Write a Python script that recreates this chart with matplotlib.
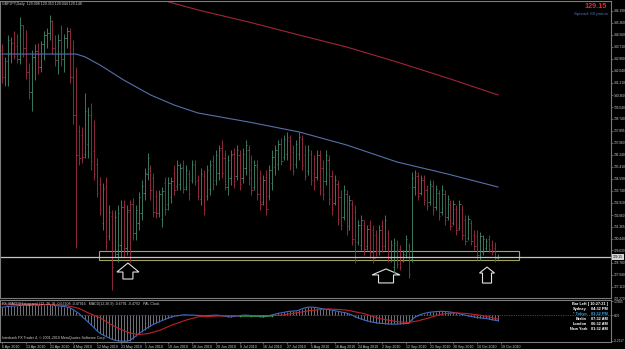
import matplotlib
matplotlib.use('Agg')
import matplotlib.pyplot as plt
import matplotlib.transforms as mtransforms
from matplotlib.patches import Polygon, Rectangle
import numpy as np

plt.rcParams['font.family'] = ['Liberation Sans', 'DejaVu Sans']

# ---------------- data ----------------
header = "GBPJPY,Daily  129.098 129.353 129.044 129.148"

opens = [143.5, 141.6, 142.7, 143.3, 144.0, 143.8, 142.9, 145.2, 143.6, 142.0,
         140.6, 143.0, 143.4, 142.3, 143.9, 144.5, 144.7, 145.5, 143.6, 142.8,
         144.2, 142.9, 144.3, 144.8, 141.6, 139.0, 137.9, 137.6, 136.3, 137.0,
         139.0, 136.5, 135.6, 134.2, 131.5, 134.0, 130.6, 132.0, 129.6, 129.4,
         130.0, 132.6, 129.8, 132.4, 132.8, 130.8, 131.5, 132.2, 133.6, 134.9,
         135.3, 134.6, 133.4, 132.2, 131.8, 134.3, 132.8, 133.3, 135.0, 134.1,
         134.2, 135.4, 134.0, 134.9, 134.5, 135.5, 134.5, 133.2, 134.8, 133.4,
         133.9, 135.8, 134.5, 135.0, 136.7, 136.0, 134.0, 134.6, 136.3, 134.8,
         136.2, 134.6, 135.3, 136.6, 135.2, 134.0, 135.4, 134.6, 133.0, 134.7,
         133.4, 134.3, 135.4, 135.6, 137.0, 136.1, 136.3, 137.2, 136.4, 135.6,
         136.3, 137.3, 136.2, 135.1, 136.3, 135.0, 134.7, 136.2, 135.3, 134.4,
         135.9, 134.8, 132.9, 134.2, 133.3, 131.9, 133.5, 131.3, 132.8, 132.3,
         130.2, 130.0, 131.4, 129.9, 131.4, 131.0, 130.7, 129.6, 131.3, 129.9,
         130.8, 129.1, 128.5, 130.0, 129.7, 128.9, 129.3, 129.9, 129.0, 134.0,
         134.8, 133.6, 134.5, 133.8, 133.0, 134.1, 132.6, 133.6, 132.3, 133.5,
         131.9, 132.8, 131.5, 132.5, 131.2, 132.5, 131.7, 130.5, 131.5, 130.7,
         130.6, 129.2, 129.5, 129.8, 130.4, 130.0, 129.8, 129.098]
highs = [143.9, 143.0, 144.5, 144.4, 144.8, 144.6, 145.8, 145.2, 144.9, 142.6,
         143.5, 143.9, 144.0, 144.1, 144.8, 145.0, 145.9, 145.6, 144.5, 144.6,
         145.2, 144.6, 145.1, 145.0, 144.2, 142.3, 138.30, 138.16, 140.51, 139.55,
         139.82, 138.65, 136.02, 134.70, 134.29, 134.70, 132.76, 132.42, 132.42, 132.76,
         133.11, 133.11, 132.76, 133.11, 133.25, 132.76, 133.66, 134.49, 135.32, 136.36,
         135.53, 134.98, 133.80, 133.80, 134.01, 134.70, 134.70, 134.70, 135.53, 135.88,
         135.67, 135.88, 135.53, 135.19, 135.88, 135.88, 134.84, 135.32, 135.19, 135.53,
         135.88, 136.22, 136.57, 136.92, 137.26, 136.57, 136.22, 136.57, 136.71, 136.92,
         136.57, 136.71, 137.26, 136.92, 136.22, 135.88, 135.88, 135.19, 134.84, 135.19,
         135.53, 136.57, 136.92, 137.26, 137.40, 137.61, 137.82, 137.61, 136.92, 137.26,
         137.82, 137.61, 136.92, 136.92, 136.57, 136.22, 136.57, 136.57, 135.88, 136.57,
         136.22, 135.19, 134.84, 134.49, 133.80, 134.15, 133.80, 133.46, 133.11, 132.76,
         131.73, 132.07, 131.73, 131.38, 131.73, 131.38, 131.03, 131.38, 131.73, 132.07,
         131.03, 130.34, 130.48, 130.34, 130.00, 129.65, 130.69, 130.13, 135.05, 135.19,
         135.05, 134.84, 134.84, 134.15, 134.49, 134.49, 134.15, 133.80, 134.15, 133.80,
         133.46, 133.11, 133.11, 132.76, 133.11, 132.76, 132.07, 132.07, 131.73, 131.03,
         131.03, 130.90, 130.69, 130.48, 130.69, 130.34, 130.20, 129.353]
lows = [141.2, 141.0, 141.0, 142.6, 142.9, 142.6, 142.5, 143.0, 141.5, 140.1,
        139.3, 141.4, 141.8, 142.0, 142.8, 143.6, 144.2, 143.2, 142.4, 141.8,
        142.4, 142.0, 143.6, 141.2, 138.4, 129.8, 135.53, 135.67, 136.02, 136.02,
        135.19, 134.49, 133.32, 132.07, 131.03, 129.65, 130.34, 126.88, 129.17, 128.82,
        129.17, 129.17, 129.30, 128.82, 130.34, 130.34, 131.03, 131.73, 133.11, 134.49,
        133.11, 131.93, 131.86, 131.93, 131.24, 132.07, 132.42, 132.90, 133.46, 133.80,
        133.80, 133.59, 133.80, 133.11, 134.29, 134.15, 133.11, 132.76, 132.07, 133.11,
        133.46, 133.80, 134.15, 134.49, 134.63, 133.80, 133.46, 134.15, 133.94, 134.49,
        133.80, 134.29, 134.84, 134.15, 133.46, 133.80, 133.11, 132.42, 132.76, 132.07,
        133.11, 133.80, 134.84, 135.19, 135.53, 135.88, 135.88, 135.19, 134.84, 135.32,
        135.88, 135.19, 134.49, 134.84, 134.15, 133.80, 134.49, 133.46, 133.11, 134.15,
        132.76, 132.07, 132.76, 131.38, 131.03, 131.73, 130.69, 131.03, 130.00, 128.75,
        130.00, 129.65, 129.30, 129.65, 129.10, 128.75, 129.24, 129.30, 129.51, 129.65,
        128.82, 128.82, 128.06, 128.40, 128.27, 128.82, 129.10, 127.71, 128.82, 133.46,
        133.11, 133.46, 132.76, 132.42, 132.76, 132.07, 132.42, 131.73, 132.07, 131.38,
        131.73, 131.03, 131.38, 130.69, 131.03, 130.34, 130.00, 130.34, 130.00, 129.65,
        128.96, 128.96, 129.30, 129.65, 129.51, 129.30, 128.82, 129.044]
closes = [141.6, 142.7, 144.2, 144.0, 143.1, 142.9, 145.2, 143.6, 142.0, 140.6,
          143.0, 143.4, 142.3, 143.9, 144.5, 144.7, 145.5, 143.6, 142.8, 144.2,
          142.9, 144.3, 144.8, 141.6, 139.0, 136.2, 136.0, 136.1, 139.3, 139.0,
          135.8, 134.9, 133.6, 132.4, 133.9, 130.2, 132.3, 128.5, 131.9, 132.2,
          132.6, 129.8, 132.3, 129.5, 130.8, 132.4, 133.3, 134.1, 135.0, 136.0,
          133.8, 132.3, 132.2, 133.5, 133.7, 132.5, 134.3, 134.4, 133.8, 135.5,
          135.3, 133.9, 135.2, 133.5, 135.6, 134.4, 133.4, 134.9, 132.5, 135.2,
          135.5, 134.2, 136.2, 136.6, 135.0, 134.2, 135.9, 136.2, 134.4, 136.6,
          134.2, 136.3, 136.9, 134.6, 133.8, 135.5, 133.5, 132.8, 134.5, 132.5,
          135.2, 136.1, 136.6, 137.0, 135.8, 137.3, 137.5, 135.6, 135.1, 137.0,
          137.5, 135.5, 134.8, 136.6, 134.5, 134.1, 136.2, 133.8, 133.5, 136.2,
          133.2, 132.5, 134.5, 131.8, 131.4, 133.8, 131.0, 133.1, 130.4, 129.2,
          131.4, 131.7, 129.7, 131.1, 129.5, 129.1, 129.6, 131.0, 129.9, 131.7,
          129.2, 130.0, 130.1, 128.7, 128.5, 129.4, 130.4, 128.0, 134.6, 135.0,
          133.4, 134.6, 133.1, 132.7, 134.2, 132.4, 133.9, 132.0, 133.8, 131.7,
          133.2, 131.3, 132.8, 131.0, 132.8, 130.7, 130.3, 131.8, 130.3, 129.9,
          129.3, 130.6, 130.4, 130.3, 129.7, 129.5, 129.10, 129.148]

# moving averages (bar index, price)
ma_blue_idx = [0, 25, 28, 33, 41, 50, 58, 66, 83, 100, 116, 133, 150, 167]
ma_blue_val = [143.21, 143.21, 143.01, 142.45, 141.41, 140.38, 139.68, 139.13,
               138.51, 137.82, 136.92, 135.74, 134.91, 134.01]
ma_red_idx = [50, 66, 83, 100, 116, 133, 150, 167]
ma_red_val = [147.16, 146.26, 145.43, 144.53, 143.70, 142.66, 141.55, 140.38]

# MACD
macd_main = [1.00, 1.05, 1.10, 1.12, 1.15, 1.18, 1.22, 1.25, 1.25, 1.22,
             1.25, 1.28, 1.28, 1.30, 1.32, 1.32, 1.35, 1.30, 1.22, 1.18,
             1.12, 1.08, 1.02, 0.90, 0.70, 0.45, 0.20, -0.20, -0.50, -0.85,
             -1.20, -1.55, -1.95, -2.25, -2.45, -2.65, -2.80, -3.00, -3.10, -3.18,
             -3.22, -3.25, -3.22, -3.15, -2.90, -2.60, -2.30, -2.05, -1.80, -1.55,
             -1.35, -1.15, -0.95, -0.80, -0.65, -0.50, -0.35, -0.22, -0.12, -0.05,
             0.00, 0.05, 0.05, 0.02, 0.03, 0.00, -0.02, -0.05, -0.08, -0.05,
             -0.02, 0.00, 0.02, 0.00, -0.05, -0.12, -0.18, -0.20, -0.15, -0.10,
             -0.05, 0.00, 0.02, 0.00, -0.03, -0.08, -0.12, -0.18, -0.20, -0.15,
             -0.05, 0.05, 0.15, 0.25, 0.30, 0.38, 0.45, 0.50, 0.52, 0.55,
             0.65, 0.80, 0.92, 1.00, 1.02, 1.00, 0.95, 0.88, 0.80, 0.75,
             0.72, 0.65, 0.58, 0.50, 0.42, 0.35, 0.28, 0.15, 0.00, -0.20,
             -0.35, -0.48, -0.60, -0.70, -0.80, -0.88, -0.95, -1.00, -1.02, -1.05,
             -1.08, -1.10, -1.10, -1.10, -1.08, -1.05, -1.02, -1.00, -0.55, -0.25,
             -0.05, 0.10, 0.22, 0.30, 0.38, 0.42, 0.45, 0.48, 0.50, 0.48,
             0.45, 0.40, 0.35, 0.28, 0.20, 0.10, 0.00, -0.08, -0.15, -0.22,
             -0.28, -0.32, -0.35, -0.40, -0.48, -0.55, -0.62, -0.68]
macd_sig_idx = [0, 15, 22, 26, 29, 33, 36, 39, 43, 46, 49, 53, 57, 62, 66, 76, 86,
                94, 99, 104, 110, 116, 122, 127, 133, 137, 140, 144, 148, 153, 157,
                162, 167]
macd_sig_val = [1.40, 1.35, 1.20, 0.85, 0.30, -0.30, -1.00, -1.60, -2.20, -2.40,
                -2.30, -1.90, -1.25, -0.60, -0.20, -0.05, -0.05, 0.00, 0.30, 0.60,
                0.80, 0.65, 0.20, -0.40, -0.80, -0.90, -0.70, -0.30, 0.15, 0.30,
                0.20, -0.05, -0.48]
green_idx = [80, 84, 88, 91]
green_val = [-0.10, -0.12, -0.10, -0.08]

price_ticks = [146.190, 145.360, 144.560, 143.710, 142.880, 142.040, 141.210,
               140.360, 139.540, 138.740, 137.895, 137.060, 136.240, 135.410,
               134.590, 133.740, 132.910, 132.060, 131.265, 130.440, 129.630,
               128.780, 127.940, 127.110]
bottom_price_label = 126.270
macd_ticks = [1.7805, 0.0, -3.2117]
macd_tick_labels = ["1.7805", "0.00", "-3.2117"]

date_tick_idx = list(range(0, 169, 8))
date_labels = ["6 Apr 2010", "13 Apr 2010", "21 Apr 2010", "4 May 2010",
               "12 May 2010", "23 May 2010", "1 Jun 2010", "10 Jun 2010",
               "18 Jun 2010", "29 Jun 2010", "8 Jul 2010", "16 Jul 2010",
               "27 Jul 2010", "5 Aug 2010", "16 Aug 2010", "24 Aug 2010",
               "2 Sep 2010", "12 Sep 2010", "21 Sep 2010", "30 Sep 2010",
               "10 Oct 2010", "19 Oct 2010"]

bid_price = 129.15
box_start, box_end = 32.7, 174.1
box_low, box_high = 128.96, 129.58
arrow_idx = [42.4, 129.3, 163.3]
arrow_price = [128.75, 128.34, 128.47]

clock_names = ["Sydney", "* Tokyo", "Berlin", "London", "New York"]
clock_times = ["04:32 PM", "03:32 PM", "07:32 AM", "06:32 AM", "01:32 AM"]

# ---------------- layout / style ----------------
W, H = 625, 349
UP, DN = '#3f8266', '#962c40'
GRID = '#7c7c7c'
TXT = '#cfcfcf'
FS = 2.6
FSR = 2.3


def rect(x0, y0, x1, y1):
    return [x0 / W, 1 - y1 / H, (x1 - x0) / W, (y1 - y0) / H]


fig = plt.figure(figsize=(W / 100, H / 100), dpi=100, facecolor='black')
ax = fig.add_axes(rect(0, 1, 611, 298))
m = fig.add_axes(rect(0, 300, 611, 342))
for a in (ax, m):
    a.set_facecolor('black')
    for s in a.spines.values():
        s.set_color(GRID)
        s.set_linewidth(0.8)

# ---- main chart ----
idx = np.arange(len(closes))
o = np.array(opens); h = np.array(highs); l = np.array(lows); c = np.array(closes)
cols = np.where(c >= o, UP, DN)
ax.vlines(idx, l, h, colors=cols, lw=0.65)
ax.hlines(o, idx - 0.45, idx, colors=cols, lw=0.65)
ax.hlines(c, idx, idx + 0.45, colors=cols, lw=0.65)

ax.plot(ma_blue_idx, ma_blue_val, color='#5670aa', lw=0.8)
ax.plot(ma_red_idx, ma_red_val, color='#a02638', lw=0.8)

ax.axhline(bid_price, color='#c4c4c4', lw=0.9)
ax.add_patch(Rectangle((box_start, box_low), box_end - box_start, box_high - box_low,
                       fill=False, ec='#a4a45e', lw=0.8))

arrow_shapes = [(22, 10, 9, 16), (28, 15, 6, 14), (15, 9, 6, 16)]
for xi, pi, (hw, sw, hh, th) in zip(arrow_idx, arrow_price, arrow_shapes):
    verts = [(0, 0), (hw / 2, -hh), (sw / 2, -hh), (sw / 2, -th),
             (-sw / 2, -th), (-sw / 2, -hh), (-hw / 2, -hh)]
    tr = mtransforms.ScaledTranslation(xi, pi, ax.transData)
    ax.add_patch(Polygon(verts, closed=True, fill=False, ec='#e0e0e0', lw=0.8,
                         transform=tr, clip_on=False))

ax.set_xlim(-0.673, 205.05)
ax.set_ylim(146.95 - 0.0692 * 298, 146.95 - 0.0692 * 1)
ax.yaxis.tick_right()
ax.set_yticks(price_ticks, [f'{v:.3f}' for v in price_ticks])
ax.set_xticks([])
ax.tick_params(axis='y', length=1.5, width=0.5, color=GRID, labelsize=FSR,
               labelcolor=TXT, pad=0.6)
ax.annotate(f'{bottom_price_label:.3f}', xy=(1, bottom_price_label),
            xycoords=('axes fraction', 'data'), xytext=(1.7, 0),
            textcoords='offset points', va='center', ha='left', fontsize=FSR,
            color=TXT, annotation_clip=False)
ax.annotate(f'{bid_price:.2f}', xy=(1, bid_price), xycoords=('axes fraction', 'data'),
            xytext=(1.4, 0), textcoords='offset points', va='center', ha='left',
            fontsize=FSR, color='black', annotation_clip=False,
            bbox=dict(boxstyle='square,pad=0.25', fc='#d4d4d4', ec='none'))

# ---- MACD ----
m.vlines(idx, 0, macd_main, colors='#b0b4c2', lw=0.45)
m.axhline(0, color=GRID, lw=0.5, ls=(0, (1, 1.5)))
m.plot(idx, macd_main, color='#3d6bc0', lw=0.8)
m.plot(macd_sig_idx, macd_sig_val, color='#c0202c', lw=0.8)
m.plot(green_idx, green_val, color='#30a040', lw=0.8, marker='+', ms=1.5, mew=0.5)
m.set_xlim(-0.673, 205.05)
m.set_ylim(-3.2117 - 0.125, 1.7805 + 0.125)
m.yaxis.tick_right()
m.set_yticks(macd_ticks, macd_tick_labels)
m.tick_params(axis='y', length=1.5, width=0.5, color=GRID, labelsize=FSR,
              labelcolor=TXT, pad=0.6)
m.set_xticks(date_tick_idx, date_labels)
m.tick_params(axis='x', length=1.5, width=0.5, color=GRID, labelsize=FS,
              labelcolor=TXT, pad=0.6)
for t in m.get_xticklabels():
    t.set_ha('left')

# ---- texts ----
fig.text(2 / W, 1 - 4.5 / H, header, fontsize=FS, color=TXT, va='center', ha='left')
fig.text(607 / W, 1 - 6.5 / H, f'{closes[-1]:.2f}', fontsize=5.2, fontweight='bold',
         color='#e8262a', va='center', ha='right')
fig.text(608 / W, 1 - 14.5 / H, 'Spread: 60 points', fontsize=3.2, color='#4f6fb0',
         va='center', ha='right')
fig.text(2 / W, 1 - 304.5 / H,
         'FX_MACD(Histogram) (12, 26, 9) -0.67908 -0.47916   MACD(12,26,9) -0.6791 -0.4792   PAL Clock',
         fontsize=FS, color=TXT, va='center', ha='left')
fig.text(2 / W, 1 - 338.5 / H,
         'Interbank FX Trader 4, \u00a9 2001-2010 MetaQuotes Software Corp.',
         fontsize=FS, color=TXT, va='center', ha='left')
fig.text(608 / W, 1 - 304 / H, 'Bar Left [ 10:27:21 ]', fontsize=2.8,
         fontweight='bold', color='white', va='center', ha='right')
for k, (nm, tm) in enumerate(zip(clock_names, clock_times)):
    yy = 1 - (309 + 5 * k) / H
    colr = '#3ca0e0' if 'Tokyo' in nm else 'white'
    fig.text(587 / W, yy, nm, fontsize=2.8, fontweight='bold', color=colr,
             va='center', ha='right')
    fig.text(591 / W, yy, tm, fontsize=2.8, fontweight='bold', color=colr,
             va='center', ha='left')

fig.savefig('out.png', dpi=100, facecolor='black')
